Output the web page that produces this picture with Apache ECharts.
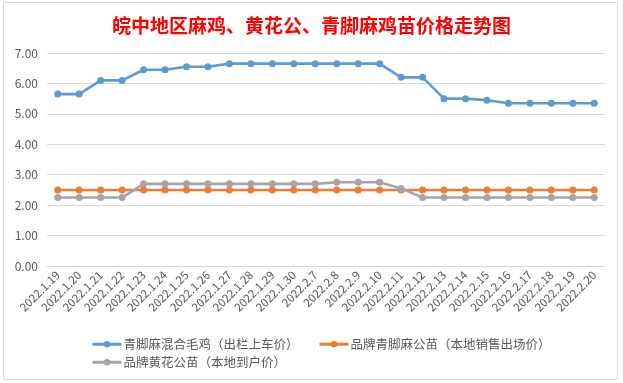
<!DOCTYPE html>
<html><head><meta charset="utf-8">
<script src="https://cdn.jsdelivr.net/npm/echarts@6/dist/echarts.min.js"></script>
<style>html,body{margin:0;padding:0;background:#fff}#c{width:623px;height:383px}</style>
</head><body><div id="c"></div>
<script>
const categories = ['2022.1.19','2022.1.20','2022.1.21','2022.1.22','2022.1.23','2022.1.24','2022.1.25','2022.1.26','2022.1.27','2022.1.28','2022.1.29','2022.1.30','2022.2.7','2022.2.8','2022.2.9','2022.2.10','2022.2.11','2022.2.12','2022.2.13','2022.2.14','2022.2.15','2022.2.16','2022.2.17','2022.2.18','2022.2.19','2022.2.20'];
const seriesNames = ['青脚麻混合毛鸡（出栏上车价）','品牌青脚麻公苗（本地销售出场价）','品牌黄花公苗（本地到户价）'];
const mixedChicken = [5.65,5.65,6.1,6.1,6.45,6.45,6.55,6.55,6.65,6.65,6.65,6.65,6.65,6.65,6.65,6.65,6.2,6.2,5.5,5.5,5.45,5.35,5.35,5.35,5.35,5.35];
const qingjiaoChick = [2.5,2.5,2.5,2.5,2.5,2.5,2.5,2.5,2.5,2.5,2.5,2.5,2.5,2.5,2.5,2.5,2.5,2.5,2.5,2.5,2.5,2.5,2.5,2.5,2.5,2.5];
const huanghuaChick = [2.25,2.25,2.25,2.25,2.7,2.7,2.7,2.7,2.7,2.7,2.7,2.7,2.7,2.75,2.75,2.75,2.55,2.25,2.25,2.25,2.25,2.25,2.25,2.25,2.25,2.25];
const yTicks = [0,1,2,3,4,5,6,7];
const title = '皖中地区麻鸡、黄花公、青脚麻鸡苗价格走势图';

const colors = ['#5B9BD5','#ED7D31','#A5A5A5'];
const font = '"Microsoft YaHei","Noto Sans CJK SC","Noto Sans",sans-serif';
const chart = echarts.init(document.getElementById('c'));
const mk = (name, data, color) => ({
  name, type:'line', data, symbol:'circle', symbolSize:7,
  lineStyle:{width:2.6,color}, itemStyle:{color}, color
});
const lg = (name, left, top) => ({
  left, top, itemWidth:29, itemHeight:8, data:[name],
  lineStyle:{width:3},
  textStyle:{fontSize:12.5,color:'#595959',fontFamily:font,padding:[0,0,0,-3]}
});
chart.setOption({
  animation:false,
  graphic:[{type:'rect',shape:{x:3.5,y:2.5,width:614,height:377},style:{fill:'none',stroke:'#D9D9D9',lineWidth:1},silent:true}],
  title:{text:title,left:'center',top:11,textStyle:{color:'#FF0000',fontSize:19,fontWeight:'bold',fontFamily:'"Noto Sans CJK SC",serif'}},
  grid:{left:47,right:18,top:53,bottom:117,containLabel:false},
  legend:[lg(seriesNames[0],86,333),lg(seriesNames[1],313,333),lg(seriesNames[2],86,351)],
  xAxis:{type:'category',data:categories,boundaryGap:true,
    axisLine:{lineStyle:{color:'#D9D9D9'}},axisTick:{show:false},
    axisLabel:{rotate:45,interval:0,fontSize:11.5,color:'#595959',margin:7,fontFamily:font}},
  yAxis:{type:'value',min:yTicks[0],max:yTicks[yTicks.length-1],interval:1,
    axisLine:{show:false},axisTick:{show:false},
    splitLine:{lineStyle:{color:'#D9D9D9'}},
    axisLabel:{formatter:v=>v.toFixed(2),fontSize:12,color:'#595959',margin:9,fontFamily:font}},
  series:[mk(seriesNames[0],mixedChicken,colors[0]),mk(seriesNames[1],qingjiaoChick,colors[1]),mk(seriesNames[2],huanghuaChick,colors[2])]
});
</script></body></html>
